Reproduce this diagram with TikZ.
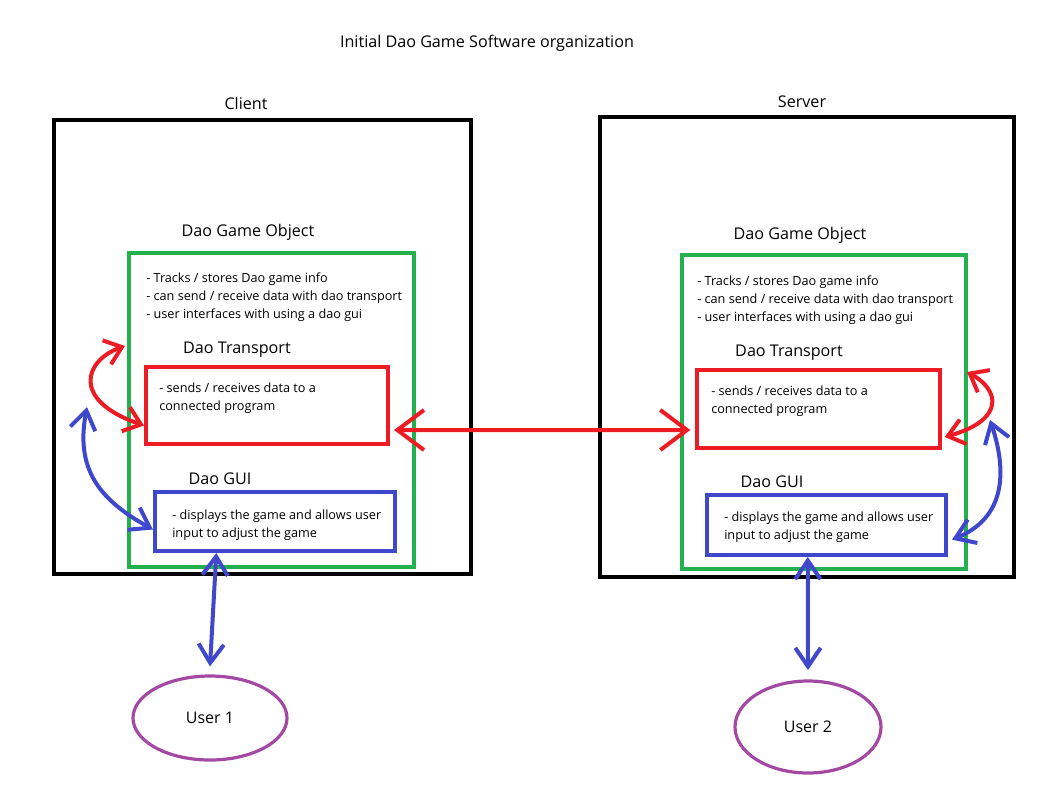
\documentclass[tikz,border=0pt]{standalone}
\usepackage{fontspec}
\setmainfont{Open Sans}
\usetikzlibrary{arrows.meta,shapes.geometric}

\definecolor{dred}{HTML}{ED1C24}
\definecolor{dgreen}{HTML}{22B14C}
\definecolor{dblue}{HTML}{3F48CC}
\definecolor{dpurple}{HTML}{A349A4}

\begin{document}
\begin{tikzpicture}[x=0.75pt,y=-0.75pt,
  every node/.style={inner sep=0pt},
  sidebox/.style={draw=black,line width=3pt},
  objbox/.style={draw=dgreen,line width=3pt},
  transbox/.style={draw=dred,line width=3pt},
  guibox/.style={draw=dblue,line width=3pt},
  userell/.style={ellipse,draw=dpurple,line width=2.4pt,font=\fontsize{12}{14}\selectfont},
  heading/.style={font=\fontsize{12.1}{14}\selectfont},
  info/.style={anchor=west,align=left,font=\fontsize{9.5}{13.5}\selectfont},
  redarr/.style={draw=dred,line width=3pt,{Straight Barb[length=12pt,width=19pt]}-{Straight Barb[length=12pt,width=19pt]}},
  bluearr/.style={draw=dblue,line width=3pt,{Straight Barb[length=14pt,width=19pt]}-{Straight Barb[length=14pt,width=19pt]}}]
\useasboundingbox (0,0) rectangle (1053,790);

\node (title) at (487,43) {\fontsize{12.1}{14}\selectfont Initial Dao Game Software organization};

% client side
\node[heading] (clientlbl) at (246,103) {Client};
\node[sidebox,minimum width=312.75pt,minimum height=340.5pt] (client) at (262.5,347) {};
\node[heading] (cobjlbl) at (248,232) {Dao Game Object};
\node[objbox,minimum width=213.75pt,minimum height=235.5pt] (cobj) at (271.5,410) {};
\node[info] (cobjtxt) at (146,297) {- Tracks / stores Dao game info\\- can send / receive data with dao transport\\- user interfaces with using a dao gui};
\node[heading] (ctranslbl) at (237,350) {Dao Transport};
\node[transbox,minimum width=181.5pt,minimum height=57.75pt] (ctrans) at (267,405.5) {};
\node[info] (ctranstxt) at (159,398) {- sends / receives data to a\\connected program};
\node[heading] (cguilbl) at (220,479) {Dao GUI};
\node[guibox,minimum width=180pt,minimum height=44.25pt] (cgui) at (275,521.5) {};
\node[info] (cguitxt) at (172,525) {- displays the game and allows user\\input to adjust the game};
\node[userell,minimum width=115.5pt,minimum height=63pt] (user1) at (210,718) {User 1};

% server side
\node[heading] (serverlbl) at (802,102) {Server};
\node[sidebox,minimum width=310.5pt,minimum height=345pt] (server) at (807,347) {};
\node[heading] (sobjlbl) at (800,235) {Dao Game Object};
\node[objbox,minimum width=213pt,minimum height=235.5pt] (sobj) at (824,412) {};
\node[info] (sobjtxt) at (697,300) {- Tracks / stores Dao game info\\- can send / receive data with dao transport\\- user interfaces with using a dao gui};
\node[heading] (stranslbl) at (789,353) {Dao Transport};
\node[transbox,minimum width=182.25pt,minimum height=58.5pt] (strans) at (818.5,409) {};
\node[info] (stranstxt) at (711,401) {- sends / receives data to a\\connected program};
\node[heading] (sguilbl) at (772,482) {Dao GUI};
\node[guibox,minimum width=179.25pt,minimum height=45pt] (sgui) at (826.5,525) {};
\node[info] (sguitxt) at (724,527) {- displays the game and allows user\\input to adjust the game};
\node[userell,minimum width=109.5pt,minimum height=69pt] (user2) at (808,727) {User 2};

% free ends of the loops
\coordinate (cloop) at (125,346);
\coordinate (cbend) at (87,407);
\coordinate (sloop) at (967,372);
\coordinate (sbend) at (990,420);

% connectors
\draw[redarr,{Straight Barb[length=20pt,width=30pt]}-{Straight Barb[length=20pt,width=30pt]}] ([xshift=3pt,yshift=-18.4pt]ctrans.east) -- ([xshift=-3.5pt,yshift=-15.75pt]strans.west);
\draw[redarr] (cloop) .. controls (85,360) and (70,400) .. ([yshift=-15pt]ctrans.west);
\draw[redarr] (sloop) .. controls (1000,390) and (1005,420) .. ([xshift=2pt,yshift=-21pt]strans.east);
\draw[bluearr] (cbend) .. controls (75,470) and (100,500) .. ([yshift=-6pt]cgui.west);
\draw[bluearr] (sbend) .. controls (1010,480) and (1000,520) .. ([xshift=3pt,yshift=-11pt]sgui.east);
\draw[bluearr] ([xshift=-44pt]cgui.south) -- ([yshift=6pt]user1.north);
\draw[bluearr] ([xshift=-14pt]sgui.south) -- ([yshift=7pt]user2.north);
\end{tikzpicture}
\end{document}
